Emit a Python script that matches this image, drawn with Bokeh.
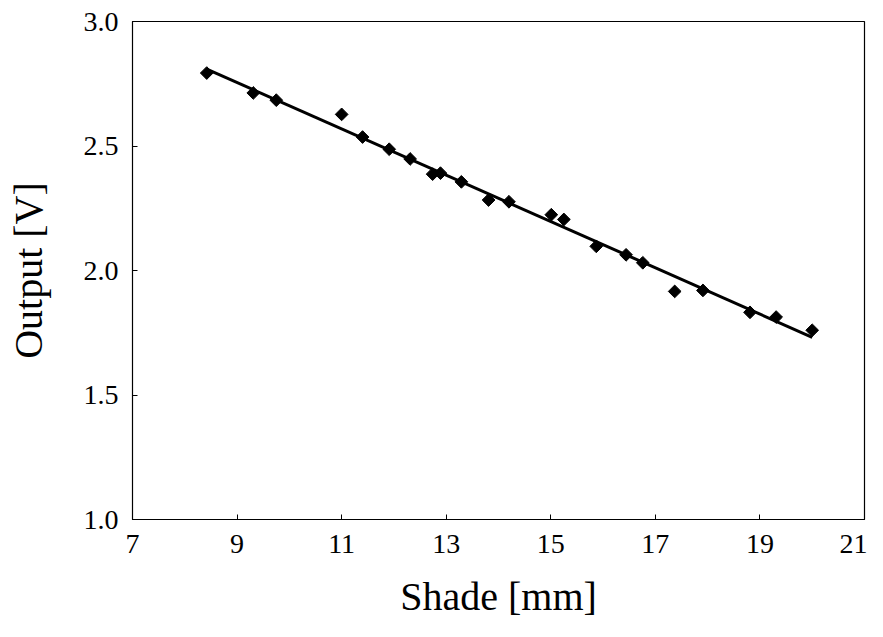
import numpy as np
from bokeh.plotting import figure
from bokeh.models import Range1d, FixedTicker
from bokeh.embed import file_html
from bokeh.resources import INLINE

shade_mm = [8.42, 9.31, 9.75, 11.00, 11.40, 11.91, 12.31, 12.74, 12.89, 13.29, 13.81,
            14.20, 15.01, 15.25, 15.87, 16.44, 16.76, 17.37, 17.91, 18.81, 19.31, 20.00]
output_v = [2.793, 2.713, 2.684, 2.627, 2.536, 2.487, 2.448, 2.387, 2.391, 2.356, 2.283,
            2.276, 2.224, 2.205, 2.097, 2.063, 2.031, 1.916, 1.920, 1.832, 1.813, 1.760]
x_ticks = [7, 9, 11, 13, 15, 17, 19, 21]
y_ticks = [1.0, 1.5, 2.0, 2.5, 3.0]

# linear regression trend line
slope, intercept = np.polyfit(shade_mm, output_v, 1)
trend_x = [min(shade_mm), max(shade_mm)]
trend_y = [slope * v + intercept for v in trend_x]

FONT = "Liberation Serif"

p = figure(width=867, height=621, output_backend="svg", toolbar_location=None,
           x_range=Range1d(7, 21), y_range=Range1d(1.0, 3.0),
           min_border_left=132, min_border_right=3, min_border_top=21, min_border_bottom=100)

p.line(trend_x, trend_y, line_color="black", line_width=3)
p.scatter(shade_mm, output_v, marker="square", angle=np.pi / 4, size=9,
          fill_color="black", line_color="black")

p.xgrid.visible = False
p.ygrid.visible = False
p.outline_line_color = "black"
p.outline_line_width = 1.2

p.xaxis.ticker = FixedTicker(ticks=x_ticks)
p.yaxis.ticker = FixedTicker(ticks=y_ticks)
p.yaxis.major_label_overrides = {1.0: "1.0", 1.5: "1.5", 2.0: "2.0", 2.5: "2.5", 3.0: "3.0"}

for ax in (p.xaxis[0], p.yaxis[0]):
    ax.major_tick_in = 5
    ax.major_tick_out = 0
    ax.minor_tick_line_color = None
    ax.axis_line_color = "black"
    ax.major_tick_line_color = "black"
    ax.major_label_text_font = FONT
    ax.major_label_text_font_size = "28px"
    ax.major_label_text_color = "black"
    ax.axis_label_text_font = FONT
    ax.axis_label_text_font_size = "40px"
    ax.axis_label_text_font_style = "normal"
    ax.axis_label_text_color = "black"

p.xaxis.axis_label = "Shade [mm]"
p.yaxis.axis_label = "Output [V]"
p.xaxis.major_label_standoff = 15
p.yaxis.major_label_standoff = 14
p.xaxis.axis_label_standoff = 18
p.yaxis.axis_label_standoff = 30

open("out.html", "w").write(file_html(p, INLINE))
